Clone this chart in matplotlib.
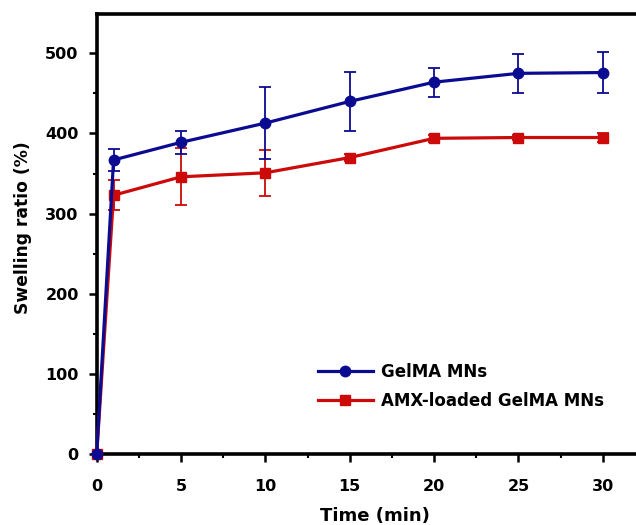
import matplotlib
matplotlib.use('Agg')
import matplotlib.pyplot as plt
from matplotlib.ticker import MultipleLocator
from matplotlib.lines import Line2D

plt.rcParams['font.family'] = ['DejaVu Sans']

# data
time_min = [0, 1, 5, 10, 15, 20, 25, 30]
gelma = [0, 367, 389, 413, 440, 464, 475, 476]
gelma_err = [0, 14, 14.5, 44.5, 37, 18, 24.5, 25.5]
amx = [0, 323, 346, 351, 370, 394, 395, 395]
amx_err = [0, 18.5, 35.5, 28.5, 4, 4, 3, 5]

blue = '#0b0b92'
red = '#cc0a0a'

fig = plt.figure(figsize=(6.36, 5.25), dpi=100)
W, H = 636, 525
# axes runs past the right edge like the cropped original
ax = fig.add_axes([96.7 / W, 1 - 454.3 / H, 556.7 / W, 440.3 / H])

ax.errorbar(time_min, amx, yerr=amx_err, color=red, marker='s', markersize=7,
            linewidth=2.3, elinewidth=1.3, capsize=4.5, capthick=1.3,
            clip_on=False, zorder=3)
ax.errorbar(time_min, gelma, yerr=gelma_err, color=blue, marker='o', markersize=7.5,
            linewidth=2.3, elinewidth=1.3, capsize=4.5, capthick=1.3,
            clip_on=False, zorder=4)

ax.set_xlim(0, 33)
ax.set_ylim(0, 549)
ax.xaxis.set_major_locator(MultipleLocator(5))
ax.xaxis.set_minor_locator(MultipleLocator(2.5))
ax.yaxis.set_major_locator(MultipleLocator(100))
ax.yaxis.set_minor_locator(MultipleLocator(50))

for s in ax.spines.values():
    s.set_linewidth(2.6)
ax.spines['right'].set_visible(False)
ax.tick_params(axis='x', which='major', pad=12)
ax.tick_params(axis='y', which='major', pad=7)
ax.tick_params(which='major', direction='out', length=6, width=1.8, labelsize=11.5)
ax.tick_params(which='minor', direction='out', length=3, width=1.5)
for lab in ax.get_xticklabels() + ax.get_yticklabels():
    lab.set_fontweight('bold')

ax.set_xlabel('Time (min)', fontsize=13, fontweight='bold', labelpad=9)
ax.set_ylabel('Swelling ratio (%)', fontsize=12.3, fontweight='bold')
ax.yaxis.set_label_coords(-0.117, 0.515)

handles = [Line2D([], [], color=blue, marker='o', markersize=7.5, linewidth=2.3),
           Line2D([], [], color=red, marker='s', markersize=7, linewidth=2.3)]
leg = ax.legend(handles, ['GelMA MNs', 'AMX-loaded GelMA MNs'], loc='upper left',
                bbox_to_anchor=(0.385, 0.222), frameon=False, fontsize=12,
                handlelength=3.3, handletextpad=0.5, labelspacing=0.65, borderaxespad=0)
for t in leg.get_texts():
    t.set_fontweight('bold')

fig.savefig('out.png', dpi=100)
